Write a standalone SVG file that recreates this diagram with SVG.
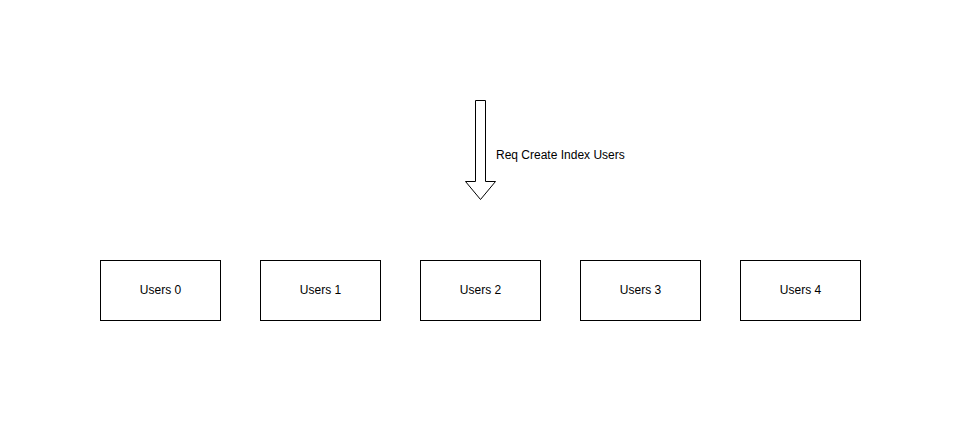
<svg xmlns="http://www.w3.org/2000/svg" width="961" height="421" viewBox="0 0 961 421">
<style>
.box{fill:#fff;stroke:#000;stroke-width:1}
.t{font-family:"Liberation Sans",Arial,sans-serif;font-size:12px;fill:#000}
</style>
<rect width="961" height="421" fill="#fff"/>
<g id="connectors">
<path d="M475.5 100.5 H485.5 V181.5 H495.5 L480.5 199.5 L465.5 181.5 H475.5 Z" fill="#fff" stroke="#000" stroke-width="1"/>
</g>
<g id="label"><text class="t" x="496" y="159">Req Create Index Users</text></g>
<g id="users0"><rect class="box" x="100.5" y="260.5" width="120" height="60"/><text class="t" x="160.5" y="294" text-anchor="middle">Users 0</text></g>
<g id="users1"><rect class="box" x="260.5" y="260.5" width="120" height="60"/><text class="t" x="320.5" y="294" text-anchor="middle">Users 1</text></g>
<g id="users2"><rect class="box" x="420.5" y="260.5" width="120" height="60"/><text class="t" x="480.5" y="294" text-anchor="middle">Users 2</text></g>
<g id="users3"><rect class="box" x="580.5" y="260.5" width="120" height="60"/><text class="t" x="640.5" y="294" text-anchor="middle">Users 3</text></g>
<g id="users4"><rect class="box" x="740.5" y="260.5" width="120" height="60"/><text class="t" x="800.5" y="294" text-anchor="middle">Users 4</text></g>
</svg>
